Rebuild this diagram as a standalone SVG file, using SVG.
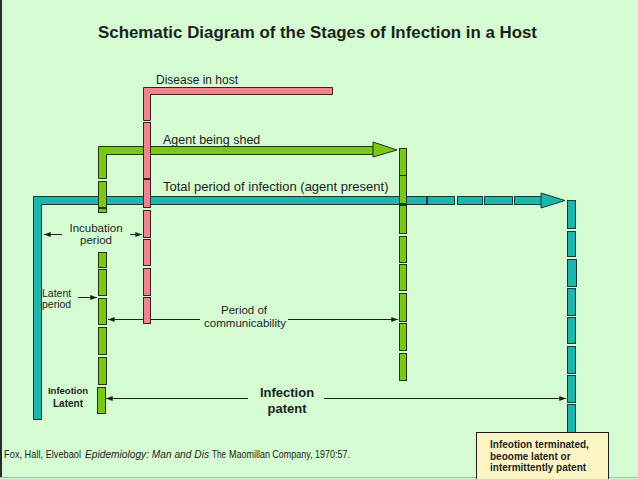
<svg xmlns="http://www.w3.org/2000/svg" width="638" height="479" viewBox="0 0 638 479">
<defs>
<style>
text{font-family:"Liberation Sans",Arial,sans-serif;fill:#1e1e1e}
.lbl{font-size:11.5px}
.cit{font-size:10.5px}
.p{fill:#f2838f;stroke:#3b2226;stroke-width:1}
.g{fill:#79c815;stroke:#24360c;stroke-width:1}
.t{fill:#1fb5ad;stroke:#143a37;stroke-width:1}
.c{stroke:#1e1e1e;stroke-width:1;fill:none}
</style>
<marker id="ah" viewBox="0 0 8 6" refX="8" refY="3" markerWidth="7" markerHeight="5" markerUnits="userSpaceOnUse" orient="auto">
<path d="M0,0 L8,3 L0,6 Z" fill="#1e1e1e"/>
</marker>
</defs>
<rect x="0" y="0" width="638" height="479" fill="#d4fbd2"/>
<line x1="1" y1="0" x2="1" y2="478" stroke="#2a2a2a" stroke-width="2"/>
<line x1="0" y1="477.5" x2="638" y2="477.5" stroke="#9fb8b0" stroke-width="1"/>

<g id="title">
<text x="98" y="38" font-size="17" font-weight="bold" textLength="439" lengthAdjust="spacingAndGlyphs">Schematic Diagram of the Stages of Infection in a Host</text>
</g>

<g id="total-period">
<path class="t" d="M33.5,196.5 H400.5 V204.5 H41.5 V419.5 H33.5 Z"/>
<rect class="t" x="400.5" y="196.5" width="26" height="8"/>
<rect class="t" x="427.5" y="196.5" width="27" height="8"/>
<rect class="t" x="457.5" y="196.5" width="25" height="8"/>
<rect class="t" x="484.5" y="196.5" width="28" height="8"/>
<rect class="t" x="514.5" y="196.5" width="27" height="8"/>
<polygon class="t" points="541,193 565,200.5 541,208"/>
<rect class="t" x="567.5" y="200.5" width="8" height="28"/>
<rect class="t" x="567.5" y="231.5" width="8" height="25"/>
<rect class="t" x="567.5" y="259.5" width="9" height="27"/>
<rect class="t" x="567.5" y="288.5" width="8" height="27"/>
<rect class="t" x="567.5" y="317.5" width="8" height="26"/>
<rect class="t" x="567.5" y="346.5" width="8" height="27"/>
<rect class="t" x="567.5" y="375.5" width="8" height="27"/>
<rect class="t" x="567.5" y="404.5" width="8" height="28"/>
<text x="163" y="191" font-size="13">Total period of infection (agent present)</text>
</g>

<g id="agent-shed">
<path class="g" d="M98.5,146.5 H373.5 V154.5 H106.5 V178.5 H98.5 Z"/>
<polygon class="g" points="373,142 397,150 373,157"/>
<rect class="g" x="98.5" y="181.5" width="8" height="26"/>
<rect class="g" x="98.5" y="208.5" width="8" height="4"/>
<rect class="g" x="98.5" y="252.5" width="8" height="15"/>
<rect class="g" x="98.5" y="269.5" width="8" height="26"/>
<rect class="g" x="98.5" y="298.5" width="8" height="26"/>
<rect class="g" x="98.5" y="327.5" width="8" height="27"/>
<rect class="g" x="98.5" y="357.5" width="8" height="27"/>
<rect class="g" x="97.5" y="387.5" width="8" height="26"/>
<rect class="g" x="399.5" y="148.5" width="7" height="27"/>
<rect class="g" x="399.5" y="175.5" width="7" height="28"/>
<rect class="g" x="399.5" y="205.5" width="7" height="28"/>
<rect class="g" x="399.5" y="236.5" width="7" height="26"/>
<rect class="g" x="399.5" y="264.5" width="7" height="26"/>
<rect class="g" x="399.5" y="293.5" width="7" height="28"/>
<rect class="g" x="399.5" y="323.5" width="7" height="27"/>
<rect class="g" x="399.5" y="353.5" width="7" height="27"/>
<text x="163" y="144" font-size="12.5">Agent being shed</text>
</g>

<g id="connectors">
<line class="c" x1="62" y1="234.5" x2="44" y2="234.5" marker-end="url(#ah)"/>
<line class="c" x1="130" y1="234.5" x2="142" y2="234.5" marker-end="url(#ah)"/>
<line class="c" x1="78" y1="297.5" x2="97" y2="297.5" marker-end="url(#ah)"/>
<line class="c" x1="200" y1="319.5" x2="108" y2="319.5" marker-end="url(#ah)"/>
<line class="c" x1="288" y1="319.5" x2="398" y2="319.5" marker-end="url(#ah)"/>
<line class="c" x1="248" y1="398.5" x2="106" y2="398.5" marker-end="url(#ah)"/>
<line class="c" x1="324" y1="398.5" x2="566" y2="398.5" marker-end="url(#ah)"/>
</g>

<g id="disease-in-host">
<path class="p" d="M143.5,87.5 H332.5 V94.5 H150.5 V120.5 H143.5 Z"/>
<rect class="p" x="143.5" y="122.5" width="7" height="56"/>
<rect class="p" x="143.5" y="179.5" width="7" height="28"/>
<rect class="p" x="143.5" y="210.5" width="7" height="27"/>
<rect class="p" x="143.5" y="239.5" width="7" height="26"/>
<rect class="p" x="143.5" y="268.5" width="7" height="27"/>
<rect class="p" x="143.5" y="297.5" width="7" height="26"/>
<text x="156" y="84" font-size="12">Disease in host</text>
</g>

<g id="incubation-period">
<text class="lbl" x="96" y="232" text-anchor="middle">Incubation</text>
<text class="lbl" x="96" y="244" text-anchor="middle">period</text>
</g>

<g id="latent-period">
<text x="42" y="297" font-size="10.5">Latent</text>
<text x="42" y="308" font-size="10.5">period</text>
</g>

<g id="period-of-communicability">
<text class="lbl" x="244" y="314" text-anchor="middle">Period of</text>
<text class="lbl" x="245" y="327" text-anchor="middle">communicability</text>
</g>

<g id="infection-latent">
<text x="68" y="394" font-size="9.5" font-weight="bold" text-anchor="middle">Infeotion</text>
<text x="68" y="407" font-size="10" font-weight="bold" text-anchor="middle">Latent</text>
</g>

<g id="infection-patent">
<text x="287" y="397" font-size="13" font-weight="bold" text-anchor="middle">Infection</text>
<text x="287" y="413" font-size="13" font-weight="bold" text-anchor="middle">patent</text>
</g>

<g id="infection-terminated">
<rect x="476.5" y="432.5" width="132" height="50" fill="#fbf5c6" stroke="#1e1e1e" stroke-width="1"/>
<text x="490" y="448" font-size="10" font-weight="bold">Infeotion terminated,</text>
<text x="490" y="459.5" font-size="10" font-weight="bold">beoome latent or</text>
<text x="490" y="471" font-size="10" font-weight="bold">intermittently patent</text>
</g>

<g id="citation">
<text class="cit" x="-1" y="458" textLength="82" lengthAdjust="spacingAndGlyphs">: Fox, Hall, Elvebaol</text>
<text class="cit" x="85" y="458" font-style="italic" textLength="124" lengthAdjust="spacingAndGlyphs">Epidemiology: Man and Dis</text>
<text class="cit" x="212" y="458" textLength="14" lengthAdjust="spacingAndGlyphs">The</text>
<text class="cit" x="229" y="458" textLength="121" lengthAdjust="spacingAndGlyphs">Maomillan Company, 1970:57.</text>
</g>
</svg>
